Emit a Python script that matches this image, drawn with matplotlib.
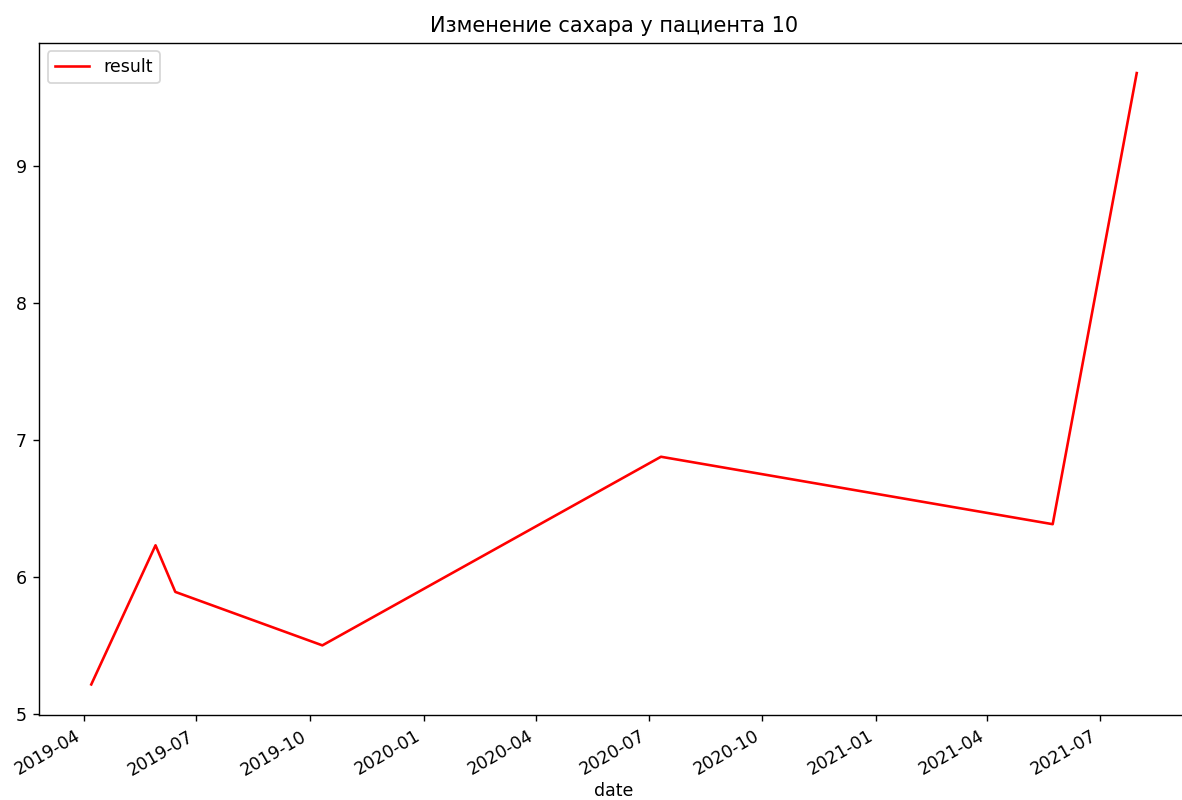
import matplotlib
matplotlib.use("Agg")
import matplotlib.pyplot as plt
import pandas as pd

# readings for patient 10
dates = ["2019-04-07", "2019-05-29", "2019-06-14", "2019-10-11",
         "2020-07-11", "2021-05-24", "2021-07-31"]
result = [5.215, 6.23, 5.89, 5.50, 6.876, 6.384, 9.675]

df = pd.DataFrame({"date": pd.to_datetime(dates), "result": result})

# higher dpi -> text and lines drawn a bit larger, like the reference
DPI = 125
fig = plt.figure(figsize=(1182 / DPI, 800 / DPI), dpi=DPI)
ax = fig.add_axes([39 / 1182, 85 / 800, 1150 / 1182, 672.5 / 800])

ax.plot(df["date"], df["result"], color="red", label="result")

ax.set_title("Изменение сахара у пациента 10", fontsize=12)
ax.set_xlabel("date", fontsize=10, labelpad=1.5)
ax.legend(loc="upper left")

for lbl in ax.get_xticklabels():
    lbl.set_rotation(30)
    lbl.set_ha("right")

fig.savefig("out.png", dpi=DPI)
